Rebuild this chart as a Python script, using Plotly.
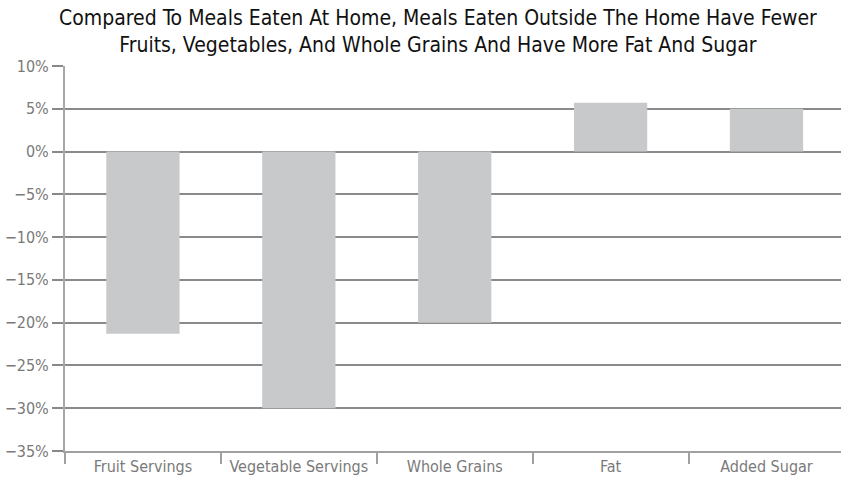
import plotly.graph_objects as go

categories = ["Fruit Servings", "Vegetable Servings", "Whole Grains", "Fat", "Added Sugar"]
values = [-21.3, -30.0, -20.0, 5.7, 5.0]

title_text = ("Compared To Meals Eaten At Home, Meals Eaten Outside The Home Have Fewer<br>"
              "Fruits, Vegetables, And Whole Grains And Have More Fat And Sugar")

font_fam = "Liberation Sans Narrow, DejaVu Sans Condensed, Roboto, sans-serif"

fig = go.Figure(go.Bar(
    x=categories, y=values,
    marker=dict(color="#c8c9cb", line=dict(width=0)),
    width=0.47,
    hoverinfo="skip",
))

fig.update_layout(
    width=841, height=483,
    margin=dict(l=65, r=0, t=66, b=32),
    paper_bgcolor="white", plot_bgcolor="white",
    showlegend=False,
    font=dict(family=font_fam, size=16, color="#7a7a7a"),
    xaxis=dict(
        type="category", range=[-0.5, 4.478],
        tickson="boundaries", ticks="outside", ticklen=11, tickwidth=2, tickcolor="#a0a0a0",
        showline=True, linecolor="#a0a0a0", linewidth=2,
        showgrid=False, tickfont=dict(size=16, color="#7a7a7a"),
    ),
    yaxis=dict(
        range=[-35, 10], dtick=5, tick0=0, ticksuffix="%",
        ticks="outside", ticklen=11, tickwidth=1.5, tickcolor="#888",
        showgrid=True, gridcolor="#8a8a8a", gridwidth=1.5,
        zeroline=False,
        showline=True, linecolor="#a8a8a8", linewidth=2,
        tickfont=dict(size=16, color="#7a7a7a"),
    ),
    annotations=[dict(
        text=title_text, xref="paper", yref="paper",
        x=(438 - 65) / (841 - 65), y=1 + (66 - 32) / 385,
        xanchor="center", yanchor="middle", showarrow=False,
        font=dict(family=font_fam, size=21, color="#111"),
    )],
)

fig.write_html("out.html")
